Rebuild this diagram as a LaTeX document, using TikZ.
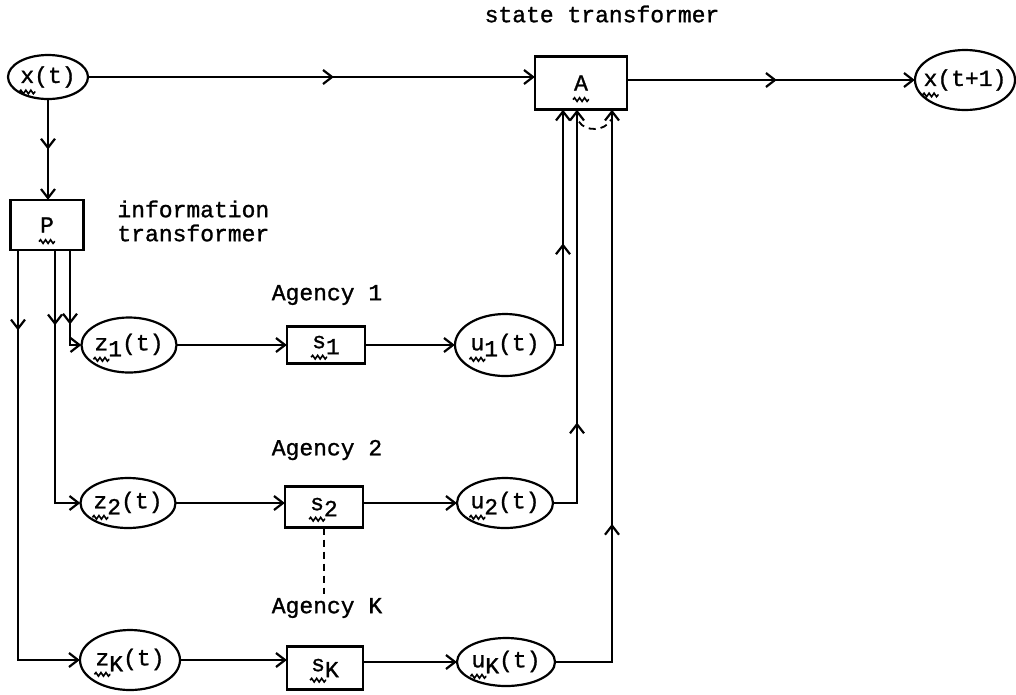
\documentclass[tikz,border=0pt]{standalone}
\usepackage{fontspec}
\setmainfont{Liberation Mono}[FakeBold=1.2]
\usetikzlibrary{shapes.geometric,arrows.meta,decorations.markings,decorations.pathmorphing}
\tikzset{>={Straight Barb[length=9pt,width=14pt]}}
\newsavebox\wvbox
\newcommand\wv[1]{\sbox\wvbox{#1}\rlap{\smash{\hbox to \wd\wvbox{\hss\tikz[baseline=0pt,x=1pt,y=1pt,line width=1.6pt]\draw[-,decorate,decoration={snake,amplitude=1.8pt,segment length=5pt}] (-3,-9) -- (13,-9);\hss}}}\usebox\wvbox}
\newcommand\sbs[1]{\raisebox{-6pt}{#1}}
\begin{document}
\begin{tikzpicture}[x=1pt,y=-1pt,line width=2.2pt,
  every node/.style={font=\fontsize{23}{24}\selectfont},
  ell/.style={draw,ellipse,inner xsep=-14pt,inner ysep=-2pt},
  box/.style={draw,rectangle,inner sep=0pt},
  dsh/.style={line width=1.8pt,dash pattern=on 7pt off 5pt},
  midarrow/.style={postaction={decorate},decoration={markings,mark=at position #1 with {\arrow{>}}}}]
\useasboundingbox (0,0) rectangle (1016,694);

% top row
\node[ell,minimum width=80pt,minimum height=44pt] (xt) at (48,77) {\wv{x}(t)};
\node[box,minimum width=92pt,minimum height=53pt] (A) at (581,83) {\wv{A}};
\node[ell,minimum width=100pt,minimum height=60pt] (xt1) at (965,80) {\wv{x}(t+1)};
\node (st) at (602,14) {state transformer};

% information transformer
\node[box,minimum width=73pt,minimum height=50pt] (P) at (47,225) {\wv{P}};
\node[align=left,anchor=west] (it) at (113,221) {information\\transformer};

% agencies
\node (ag1) at (327,295) {Agency 1};
\node (ag2) at (327,450) {Agency 2};
\node (agK) at (327,608) {Agency K};

\node[ell,minimum width=95pt,minimum height=55pt] (z1) at (129,345) {\wv{z}\sbs{1}(t)};
\node[box,minimum width=78pt,minimum height=37pt] (s1) at (326,345) {\wv{s}\sbs{1}};
\node[ell,minimum width=100pt,minimum height=62pt] (u1) at (505,345) {\wv{u}\sbs{1}(t)};

\node[ell,minimum width=95pt,minimum height=50pt] (z2) at (128,503) {\wv{z}\sbs{2}(t)};
\node[box,minimum width=78pt,minimum height=41pt] (s2) at (324,507) {\wv{s}\sbs{2}};
\node[ell,minimum width=96pt,minimum height=50pt] (u2) at (505,503) {\wv{u}\sbs{2}(t)};

\node[ell,minimum width=100pt,minimum height=60pt] (zK) at (130,660) {\wv{z}\sbs{K}(t)};
\node[box,minimum width=76pt,minimum height=43pt] (sK) at (325,668) {\wv{s}\sbs{K}};
\node[ell,minimum width=98pt,minimum height=48pt] (uK) at (506,662) {\wv{u}\sbs{K}(t)};

% connectors
\draw[->,midarrow=0.55] (xt.east) -- (xt.east -| A.west);
\draw[->,midarrow=0.52] (xt1.west -| A.east) -- (xt1.west);
\draw[->,midarrow=0.5] (xt.south) -- (xt.south |- P.north);

\draw[->,midarrow=0.17] ([xshift=-29pt]P.south) |- (zK.west);
\draw[->,midarrow=0.27] ([xshift=8pt]P.south) |- (z2.west);
\draw[->,midarrow=0.70] ([xshift=23pt]P.south) |- (z1.west);

\draw[->] (z1.east) -- (s1.west);
\draw[->] (s1.east) -- (u1.west);
\draw[->] (z2.east) -- (z2.east -| s2.west);
\draw[->] (u2.west -| s2.east) -- (u2.west);
\draw[->] (zK.east) -- (zK.east -| sK.west);
\draw[->] (uK.west -| sK.east) -- (uK.west);

\draw[->,midarrow=0.45] (u1.east) -| ([xshift=-18pt]A.south);
\draw[->,midarrow=0.25] (u2.east) -| ([xshift=-4pt]A.south);
\draw[->,midarrow=0.32] (uK.east) -| ([xshift=31pt]A.south);

\draw[dsh] ([shift={(-2,12)}]A.south) .. controls ([shift={(4,22)}]A.south) and ([shift={(24,22)}]A.south) .. ([shift={(30,10)}]A.south);
\draw[dsh] (s2.south) -- (s2.south |- agK.north);
\end{tikzpicture}
\end{document}
